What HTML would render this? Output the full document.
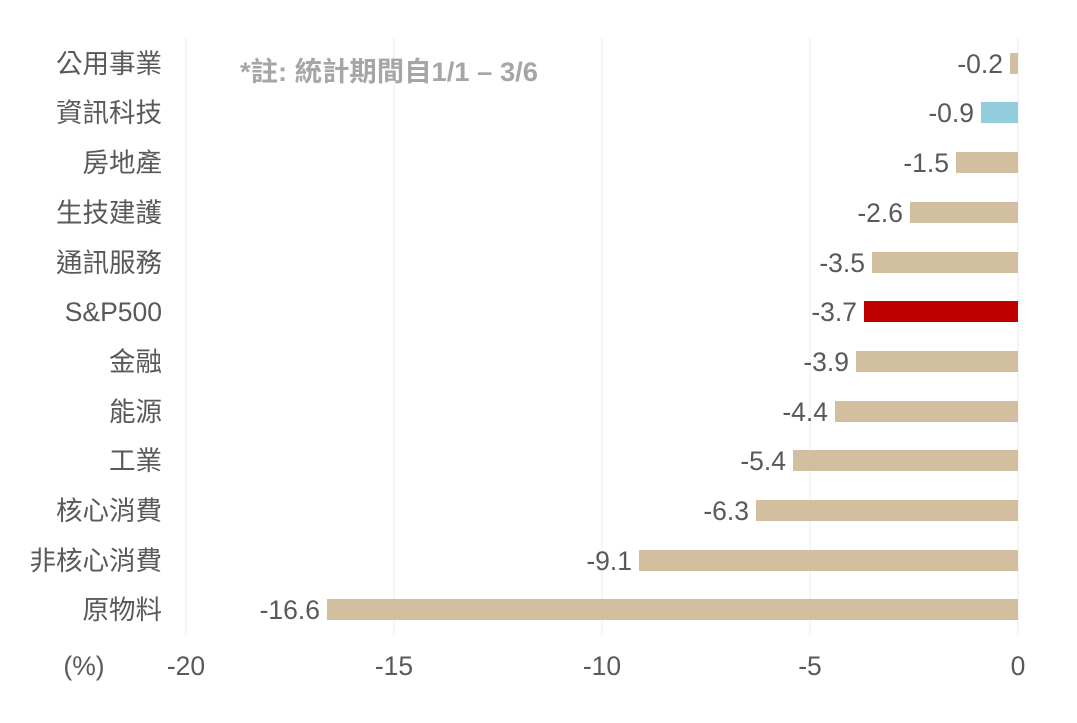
<!DOCTYPE html>
<html><head><meta charset="utf-8"><style>
body{margin:0;background:#fff;}
svg text{font-family:"Liberation Sans","Noto Sans CJK TC",sans-serif;fill:#595959;font-size:26.5px;}
</style></head><body>
<svg width="1077" height="718" xmlns="http://www.w3.org/2000/svg">
<g stroke="#ececec" stroke-width="1">
<line x1="186" y1="38" x2="186" y2="635"/>
<line x1="394" y1="38" x2="394" y2="635"/>
<line x1="602" y1="38" x2="602" y2="635"/>
<line x1="810" y1="38" x2="810" y2="635"/>
<line x1="1018" y1="38" x2="1018" y2="635"/>
</g>
<text x="240" y="81" textLength="298" lengthAdjust="spacingAndGlyphs" style="fill:#a6a6a6;font-weight:600;font-size:27px">*註: 統計期間自1/1 – 3/6</text>
<g id="bars">
<rect x="1010" y="53" width="8" height="21" fill="#d2bfa0"/>
<rect x="981" y="102" width="37" height="21" fill="#92cddc"/>
<rect x="956" y="152" width="62" height="21" fill="#d2bfa0"/>
<rect x="910" y="202" width="108" height="21" fill="#d2bfa0"/>
<rect x="872" y="252" width="146" height="21" fill="#d2bfa0"/>
<rect x="864" y="301" width="154" height="21" fill="#c00000"/>
<rect x="856" y="351" width="162" height="21" fill="#d2bfa0"/>
<rect x="835" y="401" width="183" height="21" fill="#d2bfa0"/>
<rect x="793" y="450" width="225" height="21" fill="#d2bfa0"/>
<rect x="756" y="500" width="262" height="21" fill="#d2bfa0"/>
<rect x="639" y="550" width="379" height="21" fill="#d2bfa0"/>
<rect x="327" y="599" width="691" height="21" fill="#d2bfa0"/>
</g>
<g text-anchor="end">
<text x="162" y="73">公用事業</text>
<text x="162" y="122">資訊科技</text>
<text x="162" y="172">房地產</text>
<text x="162" y="222">生技建護</text>
<text x="162" y="272">通訊服務</text>
<text x="162" y="321">S&amp;P500</text>
<text x="162" y="371">金融</text>
<text x="162" y="421">能源</text>
<text x="162" y="470">工業</text>
<text x="162" y="520">核心消費</text>
<text x="162" y="570">非核心消費</text>
<text x="162" y="619">原物料</text>
<text x="1003" y="73">-0.2</text>
<text x="974" y="122">-0.9</text>
<text x="949" y="172">-1.5</text>
<text x="903" y="222">-2.6</text>
<text x="865" y="272">-3.5</text>
<text x="857" y="321">-3.7</text>
<text x="849" y="371">-3.9</text>
<text x="828" y="421">-4.4</text>
<text x="786" y="470">-5.4</text>
<text x="749" y="520">-6.3</text>
<text x="632" y="570">-9.1</text>
<text x="320" y="619">-16.6</text>
</g>
<g text-anchor="middle">
<text x="84" y="675">(%)</text>
<text x="186" y="675">-20</text>
<text x="394" y="675">-15</text>
<text x="602" y="675">-10</text>
<text x="810" y="675">-5</text>
<text x="1018" y="675">0</text>
</g>
</svg>
</body></html>
